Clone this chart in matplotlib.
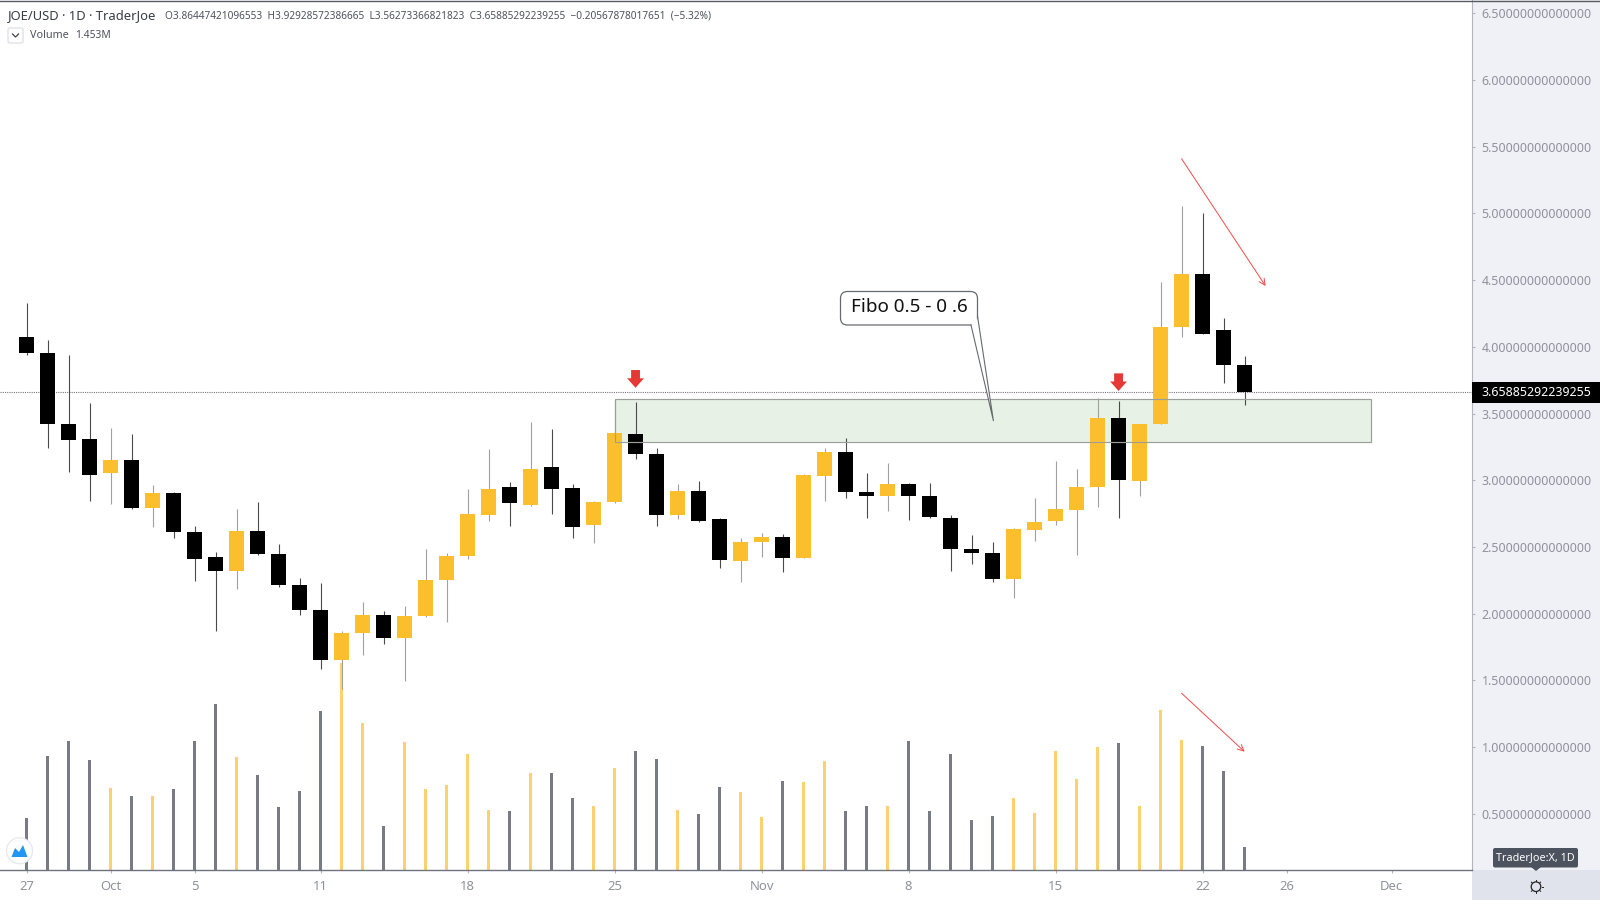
import matplotlib
matplotlib.use("Agg")
import matplotlib.pyplot as plt
from matplotlib.patches import Rectangle, FancyBboxPatch, FancyArrowPatch, Polygon, Circle
from matplotlib.lines import Line2D

plt.rcParams['font.family'] = ['Noto Sans', 'DejaVu Sans']

opens = [4.073,3.956,3.424,3.307,3.056,3.151,2.794,2.906,2.612,2.424,2.319,2.619,2.449,2.217,2.029,1.654,1.857,1.990,1.817,1.982,
         2.250,2.430,2.741,2.949,2.816,3.101,2.942,2.666,2.837,3.344,3.194,2.741,2.919,2.707,2.397,2.537,2.576,2.417,3.034,3.209,
         2.914,2.884,2.969,2.882,2.719,2.487,2.457,2.262,2.629,2.692,2.779,2.949,3.469,2.992,3.424,4.148,4.543,4.126,3.86447421096553]
highs = [4.326,4.051,3.939,3.581,3.394,3.344,2.964,2.914,2.657,2.460,2.784,2.839,2.524,2.269,2.227,1.867,2.085,2.017,2.057,2.484,
         2.457,2.934,3.234,2.984,3.439,3.384,2.972,2.844,3.609,3.584,3.239,2.972,2.994,2.714,2.564,2.606,2.594,3.044,3.241,3.314,
         3.052,3.127,2.977,2.977,2.739,2.589,2.539,2.644,2.864,3.144,3.084,3.614,3.594,3.421,4.488,5.055,5.001,4.214,3.92928572386665]
lows = [3.939,3.241,3.061,2.846,2.822,2.782,2.647,2.567,2.247,1.872,2.182,2.439,2.199,1.992,1.587,1.435,1.692,1.774,1.497,1.972,
        1.939,2.412,2.696,2.654,2.809,2.749,2.567,2.529,2.831,3.159,2.657,2.709,2.689,2.342,2.235,2.422,2.314,2.414,2.846,2.867,
        2.717,2.771,2.704,2.717,2.317,2.374,2.235,2.117,2.546,2.666,2.442,2.797,2.717,2.884,3.424,4.076,4.096,3.729,3.56273366821823]
closes = [3.954,3.424,3.304,3.041,3.151,2.794,2.906,2.612,2.412,2.317,2.619,2.447,2.217,2.029,1.652,1.855,1.990,1.817,1.982,2.252,
          2.432,2.744,2.932,2.831,3.082,2.936,2.649,2.837,3.352,3.196,2.739,2.919,2.696,2.400,2.537,2.574,2.417,3.039,3.214,2.909,
          2.884,2.969,2.879,2.722,2.487,2.454,2.262,2.632,2.687,2.782,2.949,3.469,2.999,3.421,4.148,4.543,4.096,3.864,3.65885292239255]
volumes = [3.29,7.18,8.13,6.97,5.18,4.65,4.65,5.12,8.13,10.45,7.14,6.02,3.98,4.97,10.02,13.08,9.29,2.76,8.07,5.12,
           5.39,7.29,3.81,3.71,6.13,6.09,4.55,4.06,6.44,7.54,7.03,3.81,3.56,5.24,4.93,3.33,5.60,5.56,6.87,3.75,
           4.02,4.02,8.17,3.71,7.35,3.18,3.43,4.55,3.60,7.50,5.77,7.75,8.02,4.06,10.07,8.23,7.81,6.23,1.453]
x_tick_pos = [0,4,8,14,21,28,35,42,49,56,60,65]
x_tick_labels = ['27','Oct','5','11','18','25','Nov','8','15','22','26','Dec']
bold_ticks = ['Oct','Nov','Dec']
price_ticks = [0.5,1.0,1.5,2.0,2.5,3.0,3.5,4.0,4.5,5.0,5.5,6.0,6.5]
zone = (28, 64, 3.286, 3.607)
peak_marks = [(29, 3.826, 3.693), (52, 3.801, 3.669)]
trend_arrows = [((55, 5.41), (59, 4.456)), ((55, 1.403), (58, 0.965))]

ORANGE = '#fbbf2d'
ORANGE_VOL = '#fdd16f'
GRAY_VOL = '#787b86'
LABEL = '#8f929c'
PANEL = '#f0f1f6'

days = list(range(len(closes)))
rising = [c >= o for o, c in zip(opens, closes)]

fig = plt.figure(figsize=(16, 9), dpi=100, facecolor='white')
fig.patches.append(Rectangle((1472/1600, 0), 128/1600, 1, transform=fig.transFigure, fc=PANEL, ec='none', zorder=-5))
fig.patches.append(Rectangle((1472/1600, 0), 128/1600, 30/900, transform=fig.transFigure, fc='#e0e3eb', ec='none', zorder=-4))

rect = [0, 30/900, 1472/1600, 870/900]
xlim = (-1.262, 68.83)

ax_v = fig.add_axes(rect, zorder=1)
ax_v.patch.set_alpha(0)
ax_v.set_xlim(*xlim)
ax_v.set_ylim(0, 54.9)
ax_v.axis('off')
ax_v.bar(days, volumes, width=0.15, color=[ORANGE_VOL if r else GRAY_VOL for r in rising], linewidth=0)

ax = fig.add_axes(rect, zorder=2)
ax.patch.set_alpha(0)
ax.set_xlim(*xlim)
ax.set_ylim(0.078, 6.60)

x0, x1, y0, y1 = zone
ax.add_patch(Rectangle((x0, y0), x1-x0, y1-y0, fc='#e8f1e5', ec='none', zorder=1))
ax.axhline(closes[-1], color='#777777', lw=0.8, ls=(0, (1, 1)), zorder=1.5)

for d, h, l, r in zip(days, highs, lows, rising):
    ax.plot([d, d], [l, h], color='#a0a0a0' if r else '#4a4a4a', lw=0.8, zorder=2, solid_capstyle='butt')
ax.bar(days, [abs(c-o) for o, c in zip(opens, closes)], bottom=[min(o, c) for o, c in zip(opens, closes)],
       width=0.74, color=[ORANGE if r else '#000000' for r in rising], linewidth=0, zorder=3)

ax.add_patch(Rectangle((x0, y0), x1-x0, y1-y0, fc='none', ec='#9a9f9a', lw=0.85, zorder=4))

for d, tail, tip in peak_marks:
    ax.add_patch(FancyArrowPatch((d, tail), (d, tip), arrowstyle='simple,head_length=0.62,head_width=1.1,tail_width=0.58',
                                 mutation_scale=11, fc='#e53935', ec='none', shrinkA=0, shrinkB=0, zorder=5))
for a, b in trend_arrows:
    ax.add_patch(FancyArrowPatch(a, b, arrowstyle='->,head_length=0.4,head_width=0.2', mutation_scale=11,
                                 color='#f44a4a', lw=0.7, shrinkA=0, shrinkB=0, zorder=5))

ax.yaxis.tick_right()
ax.set_yticks(price_ticks)
ax.set_yticklabels([f'{p:.14f}' for p in price_ticks], fontsize=8.9, color=LABEL)
ax.set_xticks(x_tick_pos)
ax.set_xticklabels(x_tick_labels, fontsize=9.4, color=LABEL)
for t in ax.get_xticklabels():
    if t.get_text() in bold_ticks:
        t.set_fontweight('bold')
ax.tick_params(axis='y', length=2.5, width=0.8, color='#b2b5be', pad=4.3)
ax.tick_params(axis='x', length=2.5, width=0.8, color='#b2b5be', pad=5)
ax.spines['top'].set_visible(False)
ax.spines['left'].set_visible(False)
ax.spines['right'].set_color('#b2b5be')
ax.spines['bottom'].set_color('#6f727c')
ax.spines['bottom'].set_linewidth(1.0)

last = closes[-1]
ax.add_patch(Rectangle((1.0, last-0.077), 128/1472, 0.154, transform=ax.get_yaxis_transform(),
                       fc='black', ec='none', clip_on=False, zorder=6))
ax.text(1 + 9/1472, last, f'{last:.14f}', transform=ax.get_yaxis_transform(), color='white',
        fontsize=8.9, fontweight='bold', va='center', ha='left', zorder=7)

ov = fig.add_axes([0, 0, 1, 1], zorder=5)
ov.patch.set_alpha(0)
ov.set_xlim(0, 1600)
ov.set_ylim(900, 0)
ov.axis('off')

ov.add_line(Line2D([0, 1600], [0.6, 0.6], color='#555a63', lw=1.0))

ov.text(8, 15.5, 'JOE/USD · 1D · TraderJoe', fontsize=9.35, color='#3a3d46', va='center', ha='left')
ov.text(165, 15.5, 'O3.86447421096553  H3.92928572386665  L3.56273366821823  C3.65885292239255  \u22120.20567878017651  (\u22125.32%)',
        fontsize=7.25, color='#50535e', va='center', ha='left')
ov.add_patch(FancyBboxPatch((8, 28), 15, 15, boxstyle='round,pad=0,rounding_size=2', fc='white', ec='#dcdfe6', lw=0.9))
ov.add_line(Line2D([12.5, 15.5, 18.5], [34, 37, 34], color='#444', lw=0.9))
ov.text(30, 35, 'Volume', fontsize=7.8, color='#50535e', va='center', ha='left')
ov.text(75, 35, '1.453M', fontsize=7.4, color='#50535e', va='center', ha='left')

ov.add_patch(FancyBboxPatch((840.5, 291.5), 137, 33.5, boxstyle='round,pad=0,rounding_size=7', fc='white', ec='#666a70', lw=0.9, zorder=6))
ov.add_patch(Polygon([(971, 325), (977.5, 318), (993.4, 420.7)], closed=True, fc='white', ec='none', zorder=7))
ov.add_line(Line2D([971, 993.4, 977.5], [325, 420.7, 316], color='#666a70', lw=0.8, zorder=8))
ov.text(909, 307.5, 'Fibo 0.5 - 0 .6', fontsize=13.6, color='#111111', ha='center', va='center', zorder=9)

ov.add_patch(Circle((19.5, 850.7), 13, fc='white', ec='#e6e8ee', lw=0.9))
ov.add_patch(Polygon([(11.5, 857), (15, 848), (19, 852), (23, 845), (27.5, 857)], closed=True, fc='#2196f3', ec='none'))

ov.add_patch(FancyBboxPatch((1493, 848), 85, 19.5, boxstyle='round,pad=0,rounding_size=2', fc='#4c525e', ec='none', zorder=6))
ov.add_patch(Polygon([(1531, 867), (1541, 867), (1536, 871)], closed=True, fc='#4c525e', ec='none', zorder=6))
ov.text(1535.5, 857.7, 'TraderJoe:X, 1D', fontsize=7.8, color='white', ha='center', va='center', zorder=7)
ov.add_patch(Circle((1536, 886.7), 4.8, fc='none', ec='#222', lw=0.9))
for dx, dy in [(0, -6.5), (0, 6.5), (-6.5, 0), (6.5, 0), (-4.6, -4.6), (4.6, -4.6), (-4.6, 4.6), (4.6, 4.6)]:
    ov.add_line(Line2D([1536+dx*0.85, 1536+dx], [886.7+dy*0.85, 886.7+dy], color='#222', lw=0.7))

fig.savefig('out.png', dpi=100)
